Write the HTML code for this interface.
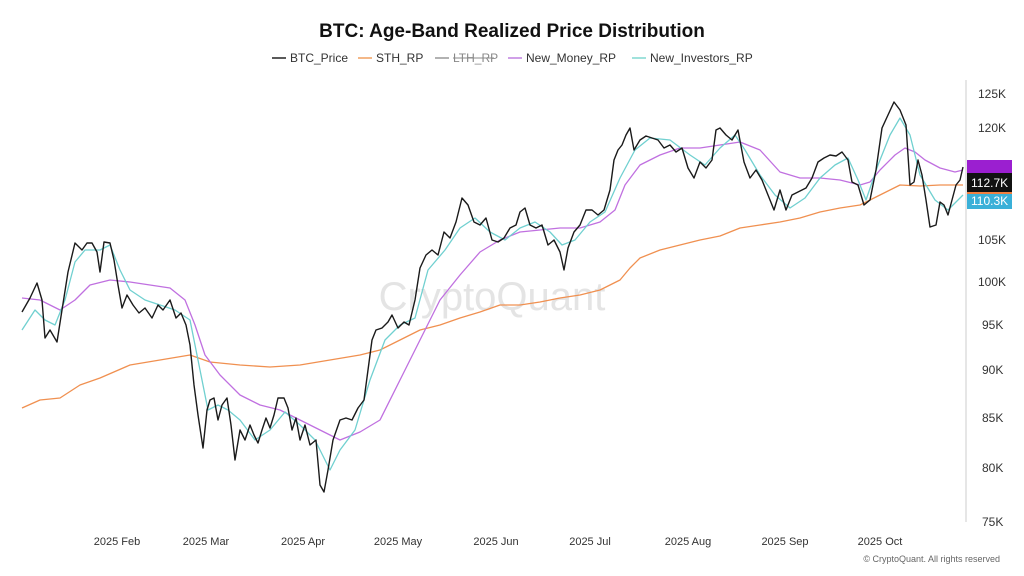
<!DOCTYPE html>
<html><head><meta charset="utf-8"><style>
html,body{margin:0;padding:0;background:#fff;}
svg{display:block;font-family:"Liberation Sans",sans-serif;}
</style></head><body>
<svg width="1024" height="576" viewBox="0 0 1024 576" xmlns="http://www.w3.org/2000/svg">
<rect width="1024" height="576" fill="#fff"/>
<text x="512" y="37" text-anchor="middle" font-size="19" font-weight="bold" fill="#111">BTC: Age-Band Realized Price Distribution</text>
<g font-size="12" fill="#333">
<line x1="272" y1="58" x2="286" y2="58" stroke="#222" stroke-width="1.5"/><text x="290" y="62">BTC_Price</text>
<line x1="358" y1="58" x2="372" y2="58" stroke="#f0a060" stroke-width="1.5"/><text x="376" y="62">STH_RP</text>
<line x1="435" y1="58" x2="449" y2="58" stroke="#999" stroke-width="1.5"/><text x="453" y="62" fill="#888">LTH_RP</text><line x1="453" y1="58" x2="494" y2="58" stroke="#888" stroke-width="1"/>
<line x1="508" y1="58" x2="522" y2="58" stroke="#c080e0" stroke-width="1.5"/><text x="526" y="62">New_Money_RP</text>
<line x1="632" y1="58" x2="646" y2="58" stroke="#80d8d0" stroke-width="1.5"/><text x="650" y="62">New_Investors_RP</text>
</g>
<text x="492" y="310" text-anchor="middle" font-size="40" fill="#e4e4e4">CryptoQuant</text>
<line x1="966" y1="80" x2="966" y2="522" stroke="#ccc" stroke-width="1"/>
<g font-size="12" fill="#333">
<text x="978" y="98">125K</text><text x="978" y="132">120K</text>
<text x="978" y="244">105K</text><text x="978" y="286">100K</text><text x="982" y="329">95K</text>
<text x="982" y="374">90K</text><text x="982" y="422">85K</text><text x="982" y="472">80K</text><text x="982" y="526">75K</text>
</g>
<g font-size="11" fill="#333" text-anchor="middle">
<text x="117" y="545">2025 Feb</text><text x="206" y="545">2025 Mar</text><text x="303" y="545">2025 Apr</text>
<text x="398" y="545">2025 May</text><text x="496" y="545">2025 Jun</text><text x="590" y="545">2025 Jul</text>
<text x="688" y="545">2025 Aug</text><text x="785" y="545">2025 Sep</text><text x="880" y="545">2025 Oct</text>
</g>
<text x="1000" y="562" text-anchor="end" font-size="9" fill="#666">© CryptoQuant. All rights reserved</text>
<g fill="none" stroke-width="1.3" stroke-linejoin="round">
<polyline stroke="#f09050" points="22,408 40,400 60,398 80,385 100,378 130,365 160,360 190,355 210,362 240,365 270,367 300,365 330,360 360,355 380,350 400,340 420,330 440,325 460,318 480,312 500,305 520,305 540,302 560,298 580,295 600,290 620,280 630,268 640,258 660,250 680,245 700,240 720,236 740,228 760,225 780,222 800,218 820,212 840,208 860,205 880,195 900,185 920,186 940,185 963,185"/>
<polyline stroke="#c070e0" points="22,298 40,300 60,310 75,300 90,285 110,280 130,282 150,285 170,288 185,300 195,325 205,355 220,375 240,395 260,405 280,410 300,420 320,430 340,440 360,432 380,420 400,380 420,340 440,300 460,275 480,252 500,240 520,232 540,230 560,228 580,228 600,222 615,210 625,185 640,165 660,155 680,148 700,148 720,145 740,142 760,150 780,172 800,178 820,178 840,180 860,185 870,182 880,170 895,155 905,148 915,152 925,160 940,168 955,172 963,170"/>
<polyline stroke="#70d0d0" points="22,330 35,310 45,320 55,325 65,300 75,262 85,250 100,250 110,245 120,270 130,290 145,300 160,305 175,310 190,320 200,370 208,410 218,405 228,410 240,420 255,440 270,430 285,412 300,425 315,440 330,470 340,450 355,430 370,380 385,340 400,325 415,318 428,270 445,250 460,228 475,218 490,232 505,240 520,228 535,222 550,232 562,245 575,240 590,222 605,212 620,178 635,150 650,138 670,140 690,155 705,165 720,148 735,135 745,150 760,175 775,195 790,208 805,198 820,178 835,165 848,158 858,180 866,200 878,165 890,135 900,118 910,135 920,175 935,200 948,210 963,195"/>
<polyline stroke="#1a1a1a" stroke-width="1.4" points="22,312 30,298 37,283 42,300 45,338 50,330 57,342 62,310 68,272 75,243 82,250 87,243 92,243 97,252 100,272 104,242 110,243 114,260 118,285 122,308 127,295 133,305 139,313 145,308 152,318 158,305 163,310 170,300 176,318 181,313 186,325 190,345 194,385 198,415 203,448 207,410 210,400 214,398 218,420 222,405 227,398 231,425 235,460 240,430 245,440 250,425 254,435 258,443 262,430 266,418 270,428 274,415 278,398 284,398 288,408 292,430 296,418 300,440 305,425 310,445 316,440 320,485 324,492 328,470 333,440 340,420 346,418 352,420 358,408 364,400 368,370 372,340 376,330 382,328 388,322 392,315 398,328 404,322 409,325 415,300 420,268 426,255 432,250 438,255 444,232 450,238 456,222 462,198 468,205 474,222 480,225 486,218 492,240 498,242 504,238 510,228 516,225 520,212 525,208 530,225 536,228 542,225 548,245 554,240 560,252 564,270 568,248 574,232 580,225 586,210 592,210 598,215 604,210 610,190 614,160 618,150 622,145 626,135 630,128 634,150 640,140 646,136 652,138 658,140 664,148 670,145 676,152 682,148 688,168 694,178 700,162 706,168 712,160 716,130 720,128 726,135 732,140 738,130 744,162 750,178 756,170 762,180 768,195 774,210 780,190 786,210 792,195 798,192 806,188 812,178 818,162 824,158 830,155 836,156 842,152 848,160 852,182 858,185 864,205 870,200 876,170 882,128 888,115 894,102 900,110 906,125 910,185 914,182 918,160 922,175 926,200 930,227 936,225 940,202 944,205 948,215 952,200 956,185 960,180 963,167"/>
</g>
<rect x="967" y="160" width="45" height="13" fill="#9b1fd0"/>
<rect x="967" y="173" width="45" height="19" fill="#111"/>
<text x="971" y="187" font-size="12" fill="#fff">112.7K</text>
<rect x="967" y="192" width="45" height="2" fill="#f08040"/>
<rect x="967" y="194" width="45" height="15" fill="#3ab0d8"/>
<text x="971" y="205" font-size="12" fill="#fff">110.3K</text>
</svg>
</body></html>
